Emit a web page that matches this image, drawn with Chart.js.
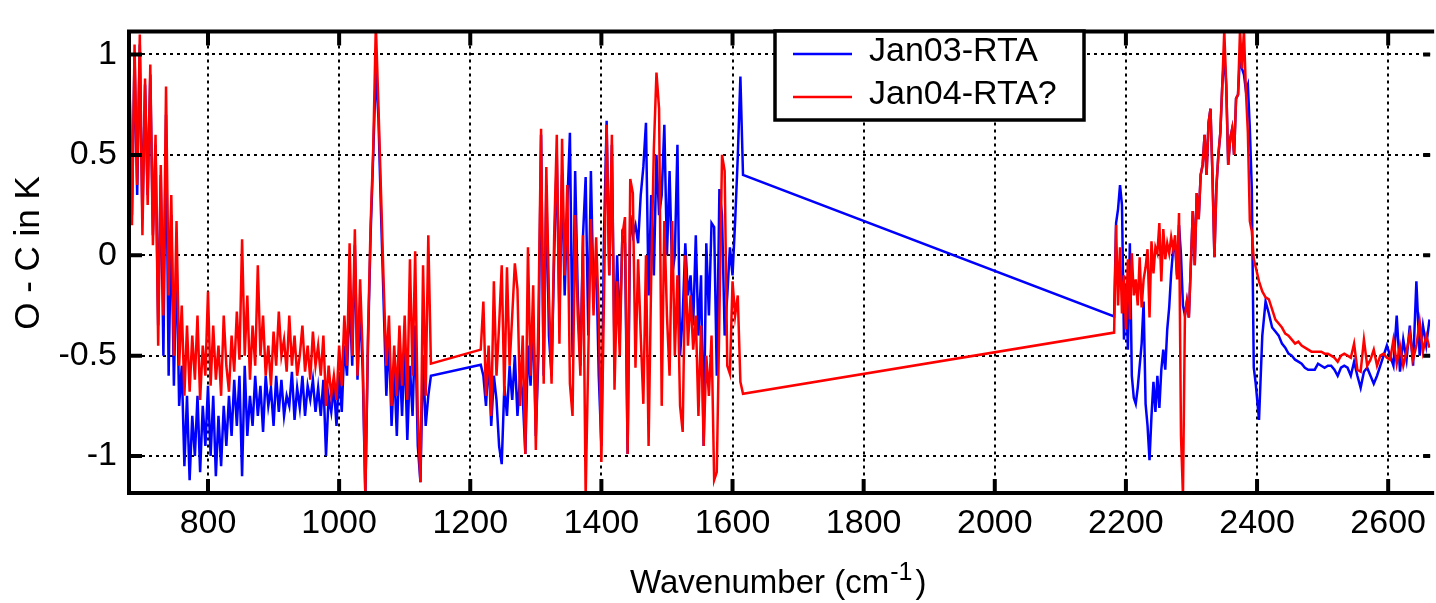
<!DOCTYPE html>
<html>
<head>
<meta charset="utf-8">
<script src="https://cdn.jsdelivr.net/npm/chart.js@4.4.1/dist/chart.umd.min.js"></script>
<style>
  html, body { margin: 0; padding: 0; background: #ffffff; }
  canvas { display: block; }
</style>
</head>
<body>
<canvas id="oc-chart" width="1436" height="603"></canvas>
<script>
// Wavenumbers (cm-1) of the plotted channels; the two jumps are the band gaps
let wavenumber = [
  680,684,688,692,696,700,704,708,712,716,
  720,724,728,732,736,740,744,748,752,756,
  760,764,768,772,776,780,784,788,792,796,
  800,804,808,812,816,820,824,828,832,836,
  840,844,848,852,856,860,864,868,872,876,
  880,884,888,892,896,900,904,908,912,916,
  920,924,928,932,936,940,944,948,952,956,
  960,964,968,972,976,980,984,988,992,996,
  1000,1004,1008,1012,1016,1020,1024,1028,1032,1036,
  1040,1044,1048,1052,1056,1060,1064,1068,1072,1076,
  1080,1084,1088,1092,1096,1100,1104,1108,1112,1116,
  1120,1124,1128,1132,1136,1140,
  1216,1220,1224,1228,1232,1236,1240,1244,1248,1252,
  1256,1260,1264,1268,1272,1276,1280,1284,1288,1292,
  1296,1300,1304,1308,1312,1316,1320,1324,1328,1332,
  1336,1340,1344,1348,1352,1356,1360,1364,1368,1372,
  1376,1380,1384,1388,1392,1396,1400,1404,1408,1412,
  1416,1420,1424,1428,1432,1436,1440,1444,1448,1452,
  1456,1460,1464,1468,1472,1476,1480,1484,1488,1492,
  1496,1500,1504,1508,1512,1516,1520,1524,1528,1532,
  1536,1540,1544,1548,1552,1556,1560,1564,1568,1572,
  1576,1580,1584,1588,1592,1596,1600,1604,1608,1612,
  1616,
  2182,2185,2188,2191,2194,2197,2200,2203,2206,2209,
  2212,2215,2218,2221,2224,2227,2230,2233,2236,2239,
  2242,2245,2248,2251,2254,2257,2260,2263,2266,2269,
  2272,2275,2278,2281,2284,2287,2290,2293,2296,2299,
  2302,2305,2308,2311,2314,2317,2320,2323,2326,2329,
  2332,2335,2338,2341,2344,2347,2350,2353,2356,2359,
  2362,2365,2368,2371,2374,2377,2380,2383,2386,2389,
  2392,2395,2398,
  2403,2408,2413,2418,2423,2428,2433,2438,2443,2448,
  2453,2458,2463,2468,2473,2478,2483,2488,2493,2498,
  2503,2508,2513,2518,2523,2528,2533,2538,2543,2548,
  2553,2558,2563,2568,2573,2578,2583,2588,2593,2598,
  2603,2608,2613,2618,2623,2628,2633,2638,2643,2648,
  2653,2658,2663
];

// O - C in K, blue curve
let jan03 = [
  0.9,0.2,1.0,0.3,1.05,0.18,0.85,0.3,0.9,0.1,
  0.55,-0.35,0.4,-0.5,0.7,-0.6,0.2,-0.65,0.0,-0.75,
  -0.55,-1.05,-0.7,-1.12,-0.8,-1.0,-0.7,-1.08,-0.75,-0.95,
  -0.65,-1.0,-0.7,-1.1,-0.8,-1.05,-0.75,-0.95,-0.7,-0.9,
  -0.62,-0.85,-0.6,-1.1,-0.55,-0.9,-0.7,-0.85,-0.6,-0.8,
  -0.65,-0.88,-0.6,-0.75,-0.66,-0.85,-0.6,-0.78,-0.62,-0.8,
  -0.7,-0.75,-0.58,-0.82,-0.66,-0.76,-0.6,-0.8,-0.65,-0.72,
  -0.62,-0.78,-0.66,-0.8,-0.62,-1.0,-0.7,-0.78,-0.65,-0.85,
  -0.58,-0.78,-0.45,-0.6,-0.2,-0.55,0.05,-0.62,-0.25,-0.58,
  -1.2,-0.45,0.1,0.5,0.93,0.68,0.2,-0.25,-0.7,-0.4,
  -0.85,-0.55,-0.9,-0.5,-0.8,-0.45,-0.92,-0.55,-0.8,-0.35,
  -0.95,-1.13,-0.5,-0.85,-0.7,-0.6,
  -0.545,-0.6,-0.75,-0.5,-0.85,-0.6,-0.72,-0.95,-1.04,-0.65,
  -0.8,-0.55,-0.72,-0.5,-0.8,-0.6,-0.7,-0.99,-0.45,-0.65,
  -0.3,-0.9,-0.5,0.6,-0.6,0.35,-0.4,-0.6,0.0,0.5,
  -0.3,0.4,-0.2,0.25,0.61,-0.5,0.42,-0.2,-0.55,0.1,
  0.39,-0.4,0.42,-0.2,0.0,-0.6,-0.95,0.1,0.67,-0.1,
  0.55,-0.5,0.0,-0.4,0.1,0.06,-0.99,0.2,0.1,0.15,
  0.06,0.3,0.44,0.66,-0.2,0.3,-0.1,0.5,0.2,0.3,
  0.65,0.0,0.42,-0.1,0.0,0.55,-0.5,-0.3,0.06,-0.2,
  -0.1,-0.35,0.1,-0.4,-0.1,-0.95,0.06,-0.3,0.16,0.14,
  -0.6,0.33,0.2,-0.4,-0.2,0.04,-0.1,0.17,0.49,0.89,
  0.4,
  -0.305,0.16,0.23,0.35,0.25,-0.42,-0.15,-0.47,0.06,-0.6,
  -0.71,-0.74,-0.66,-0.55,-0.44,-0.23,-0.74,-0.85,-1.02,-0.8,
  -0.63,-0.78,-0.6,-0.76,-0.57,-0.47,-0.57,-0.37,-0.26,-0.09,
  0.03,0.05,-0.1,0.15,0.0,-0.25,-0.3,-0.23,-0.31,-0.05,
  0.22,-0.05,0.31,0.18,0.4,0.45,0.6,0.4,0.66,0.73,
  0.4,-0.01,0.34,0.5,0.61,0.85,1.0,0.85,0.45,0.58,
  0.63,0.5,0.78,0.8,1.0,0.93,0.9,0.82,0.85,0.63,
  0.33,-0.56,-0.64,
  -0.82,-0.4,-0.23,-0.29,-0.36,-0.38,-0.4,-0.44,-0.46,-0.49,
  -0.5,-0.52,-0.53,-0.54,-0.56,-0.57,-0.57,-0.57,-0.54,-0.55,
  -0.56,-0.55,-0.55,-0.57,-0.6,-0.56,-0.55,-0.56,-0.6,-0.53,
  -0.6,-0.66,-0.58,-0.56,-0.6,-0.64,-0.6,-0.55,-0.5,-0.45,
  -0.5,-0.55,-0.3,-0.58,-0.42,-0.52,-0.35,-0.55,-0.13,-0.5,
  -0.35,-0.45,-0.32
];

// O - C in K, red curve
let jan04 = [
  0.95,0.15,1.05,0.35,1.1,0.1,0.88,0.25,0.95,0.05,
  0.6,-0.45,0.45,-0.3,0.84,-0.2,0.3,-0.5,0.17,-0.55,
  -0.25,-0.7,-0.35,-0.68,-0.4,-0.62,-0.3,-0.72,-0.45,-0.6,
  -0.18,-0.65,-0.35,-0.62,-0.45,-0.7,-0.3,-0.55,-0.68,-0.4,
  -0.58,-0.28,-0.52,0.08,-0.5,-0.2,-0.62,-0.35,-0.55,-0.05,
  -0.5,-0.3,-0.6,-0.45,-0.65,-0.38,-0.55,-0.28,-0.5,-0.42,
  -0.58,-0.3,-0.55,-0.4,-0.6,-0.5,-0.35,-0.58,-0.45,-0.62,
  -0.38,-0.55,-0.45,-0.6,-0.4,-0.75,-0.55,-0.7,-0.6,-0.72,
  -0.45,-0.65,-0.3,-0.55,0.06,-0.5,0.13,-0.6,-0.12,-0.5,
  -1.2,-0.4,0.15,0.53,1.15,0.74,0.3,-0.15,-0.55,-0.3,
  -0.75,-0.45,-0.7,-0.35,-0.65,-0.3,-0.72,-0.02,-0.6,0.02,
  -0.8,-1.13,-0.05,-0.7,0.1,-0.54,
  -0.47,-0.23,-0.7,-0.45,-0.8,-0.13,-0.6,-0.35,-0.05,-0.7,
  -0.06,-0.55,-0.3,-0.04,-0.17,-0.75,-0.4,-0.99,0.04,-0.6,
  -0.15,-0.97,-0.3,0.63,-0.64,0.44,-0.2,-0.64,0.1,0.6,
  -0.44,0.58,-0.1,0.35,-0.64,-0.8,0.2,-0.3,-0.6,0.1,
  -1.2,-0.5,0.18,-0.3,0.09,-0.3,-1.03,-0.2,0.65,-0.1,
  0.6,-0.67,-0.13,-0.5,0.1,0.19,-0.99,0.38,0.31,-0.56,
  -0.02,-0.4,-0.74,0.0,-0.95,-0.1,0.53,0.91,0.73,-0.75,
  0.17,-0.3,-0.6,0.17,-0.5,-0.1,-0.75,-0.88,0.0,-0.45,
  -0.2,-0.47,-0.3,-0.8,-0.35,-0.95,-0.5,-0.7,-0.4,-1.12,
  -1.08,-0.3,0.5,0.42,-0.55,-0.59,-0.13,-0.3,-0.2,-0.63,
  -0.69,
  -0.385,0.15,-0.25,0.04,-0.29,-0.1,-0.37,-0.02,-0.32,0.01,
  -0.2,-0.12,-0.25,-0.01,-0.26,-0.12,-0.06,0.03,-0.31,0.07,
  -0.09,0.04,0.01,0.16,-0.13,0.13,-0.02,0.06,0.01,0.09,
  0.03,0.1,-0.12,0.21,-0.9,-1.2,-0.3,-0.23,-0.31,-0.05,
  0.22,-0.05,0.31,0.18,0.4,0.45,0.6,0.4,0.66,0.73,
  0.4,-0.01,0.34,0.5,0.61,0.85,1.12,0.85,0.45,0.58,
  0.63,0.5,0.78,0.8,1.12,0.93,1.12,0.82,0.61,0.17,
  0.12,-0.02,-0.06,
  -0.13,-0.18,-0.21,-0.22,-0.27,-0.32,-0.34,-0.36,-0.39,-0.4,
  -0.42,-0.44,-0.43,-0.45,-0.46,-0.47,-0.48,-0.48,-0.48,-0.48,
  -0.49,-0.49,-0.5,-0.51,-0.53,-0.5,-0.49,-0.5,-0.51,-0.44,
  -0.57,-0.58,-0.42,-0.55,-0.52,-0.47,-0.55,-0.5,-0.49,-0.51,
  -0.52,-0.42,-0.54,-0.45,-0.55,-0.48,-0.39,-0.52,-0.45,-0.33,
  -0.48,-0.4,-0.46
];

let seriesNames = ["Jan03-RTA", "Jan04-RTA?"];
let seriesColors = ["#0000ff", "#ff0000"];
let xTicks = [800, 1000, 1200, 1400, 1600, 1800, 2000, 2200, 2400, 2600];
let yTicks = [-1, -0.5, 0, 0.5, 1];
let xTitle = "Wavenumber (cm";
let xTitleSup = "-1";
let yTitle = "O - C in K";

let fontFamily = "'Liberation Sans', Arial, Helvetica, sans-serif";

// Frame, inward tick marks, legend box and axis titles
let decorations = {
  id: 'decorations',
  afterDraw(chart) {
    let ctx = chart.ctx;
    let area = chart.chartArea;
    let xs = chart.scales.x;
    let ys = chart.scales.y;
    ctx.save();

    // plot frame (right side runs off the canvas)
    ctx.strokeStyle = '#000';
    ctx.lineWidth = 4;
    ctx.beginPath();
    ctx.moveTo(area.right + 4, area.top);
    ctx.lineTo(area.left + 1, area.top);
    ctx.lineTo(area.left + 1, area.bottom);
    ctx.lineTo(area.right + 4, area.bottom);
    ctx.stroke();

    // tick marks pointing into the plot
    ctx.beginPath();
    xTicks.forEach(v => {
      let px = xs.getPixelForValue(v);
      ctx.moveTo(px, area.top);
      ctx.lineTo(px, area.top + 14);
      ctx.moveTo(px, area.bottom);
      ctx.lineTo(px, area.bottom - 14);
    });
    yTicks.forEach(v => {
      let py = ys.getPixelForValue(v);
      ctx.moveTo(area.left, py);
      ctx.lineTo(area.left + 14, py);
      ctx.moveTo(area.right, py);
      ctx.lineTo(area.right - 7, py);
    });
    ctx.stroke();

    // legend box
    ctx.fillStyle = '#fff';
    ctx.fillRect(775, 31, 309, 89);
    ctx.lineWidth = 3.5;
    ctx.strokeRect(775, 31, 309, 89);
    let rows = [54, 97];
    ctx.font = '34px ' + fontFamily;
    ctx.textBaseline = 'middle';
    ctx.textAlign = 'left';
    chart.data.datasets.forEach((ds, i) => {
      ctx.strokeStyle = ds.borderColor;
      ctx.lineWidth = 2.5;
      ctx.beginPath();
      ctx.moveTo(793, rows[i]);
      ctx.lineTo(852, rows[i]);
      ctx.stroke();
      ctx.fillStyle = '#000';
      ctx.fillText(ds.label, 869, rows[i] - 2);
    });

    // x axis title with superscript
    ctx.fillStyle = '#000';
    ctx.textBaseline = 'alphabetic';
    ctx.font = '33px ' + fontFamily;
    let x0 = 630;
    ctx.fillText(xTitle, x0, 593);
    let w = ctx.measureText(xTitle).width;
    ctx.font = '25px ' + fontFamily;
    ctx.fillText(xTitleSup, x0 + w + 1, 580);
    let w2 = ctx.measureText(xTitleSup).width;
    ctx.font = '33px ' + fontFamily;
    ctx.fillText(")", x0 + w + w2 + 4, 593);

    // y axis title
    ctx.translate(29, 253);
    ctx.rotate(-Math.PI / 2);
    ctx.font = '35px ' + fontFamily;
    ctx.textAlign = 'center';
    ctx.textBaseline = 'middle';
    ctx.fillText(yTitle, 0, 0);

    ctx.restore();
  }
};

let canvasElement = document.getElementById('oc-chart');

let config = {
  type: 'line',
  data: {
    datasets: [
      {
        label: seriesNames[0],
        data: wavenumber.map((x, i) => ({ x: x, y: jan03[i] })),
        borderColor: seriesColors[0],
        borderWidth: 2.5,
        pointRadius: 0,
        tension: 0,
        order: 1
      },
      {
        label: seriesNames[1],
        data: wavenumber.map((x, i) => ({ x: x, y: jan04[i] })),
        borderColor: seriesColors[1],
        borderWidth: 2.5,
        pointRadius: 0,
        tension: 0,
        order: 0 // red drawn on top
      }
    ]
  },
  options: {
    responsive: false,
    devicePixelRatio: 1,
    animation: false,
    events: [],
    layout: { autoPadding: false, padding: { top: 12, right: 0, bottom: 0, left: 0 } },
    plugins: { legend: { display: false }, tooltip: { enabled: false } },
    scales: {
      x: {
        type: 'linear',
        min: 678,
        max: 2664,
        afterBuildTicks: s => { s.ticks = xTicks.map(v => ({ value: v })); },
        afterFit: s => { s.height = 110; },
        grid: { color: '#000', lineWidth: 2, drawTicks: false },
        border: { display: false, dash: [3, 4] },
        ticks: {
          padding: 10,
          color: '#000',
          font: { family: fontFamily, size: 34 },
          maxRotation: 0,
          callback: v => String(v)
        }
      },
      y: {
        type: 'linear',
        min: -1.184,
        max: 1.115,
        afterBuildTicks: s => { s.ticks = yTicks.map(v => ({ value: v })); },
        afterFit: s => { s.width = 128; },
        grid: { color: '#000', lineWidth: 2, drawTicks: false },
        border: { display: false, dash: [3, 4] },
        ticks: {
          padding: 11,
          color: '#000',
          font: { family: fontFamily, size: 34 },
          callback: v => String(v)
        }
      }
    }
  },
  plugins: [decorations]
};

let OcChart = new Chart(canvasElement, config);
</script>
</body>
</html>
